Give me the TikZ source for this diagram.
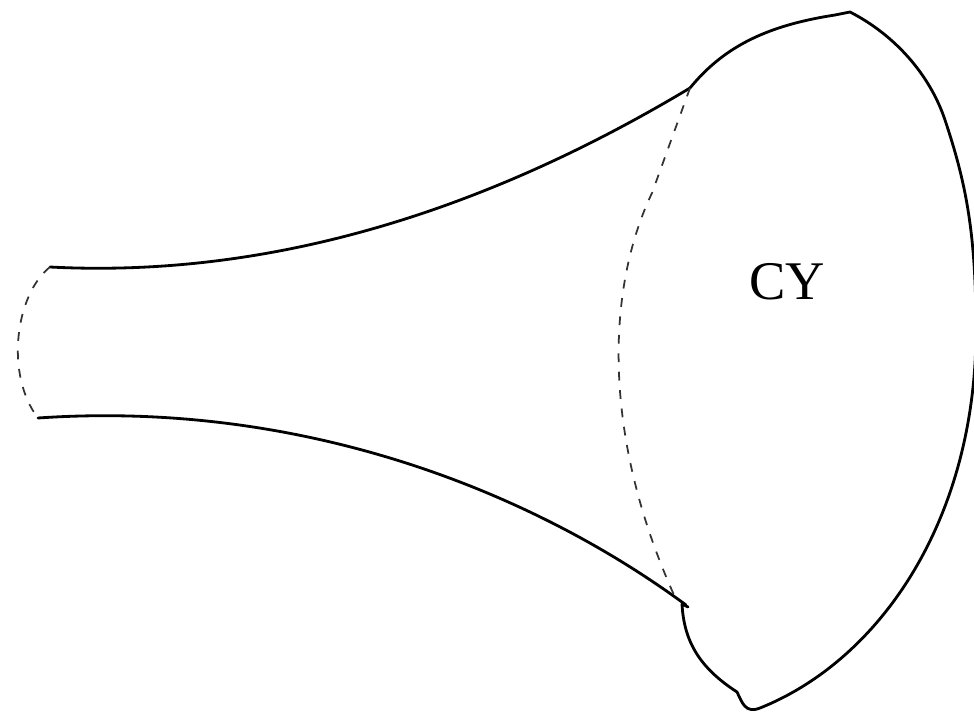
\documentclass[tikz,border=0pt]{standalone}
\usepackage{fontspec}
\setmainfont{Liberation Serif}
\tikzset{
  outline/.style={line width=1.6pt, line join=round, line cap=round},
  seam/.style={line width=1pt, dash pattern=on 5pt off 5.5pt, color=black!80}
}
\begin{document}
\begin{tikzpicture}[x=0.02cm, y=-0.02cm]
  \useasboundingbox (0,0) rectangle (974,714);
  % junction points
  \coordinate (tubetop) at (50,267);
  \coordinate (tubebot) at (38,418);
  \coordinate (necktop) at (690,88);
  \coordinate (neckbot) at (682,604);

  % tube walls
  \draw[outline] (tubetop) .. controls (300,280) and (520,190) .. (necktop);
  \draw[outline] (tubebot) .. controls (300,400) and (530,490) .. (686,605);

  % the bulb
  \draw[outline] (necktop) .. controls (725,45) and (770,25) .. (835,15)
    -- (850,12) .. controls (895,35) and (930,75) .. (945,120)
    .. controls (965,180) and (976,230) .. (976,330)
    .. controls (976,520) and (880,660) .. (760,708)
    .. controls (745,714) and (742,702) .. (737,692)
    .. controls (700,668) and (684,642) .. (neckbot) -- (688,607);

  % cuts
  \draw[seam] (tubetop) .. controls (15,295) and (5,375) .. (tubebot);
  \draw[seam] (necktop) -- (652,193) .. controls (608,285) and (600,430) .. (674,595);

  \node[font=\fontsize{31}{36}\selectfont] (cy) at (787,282) {CY};
\end{tikzpicture}
\end{document}
